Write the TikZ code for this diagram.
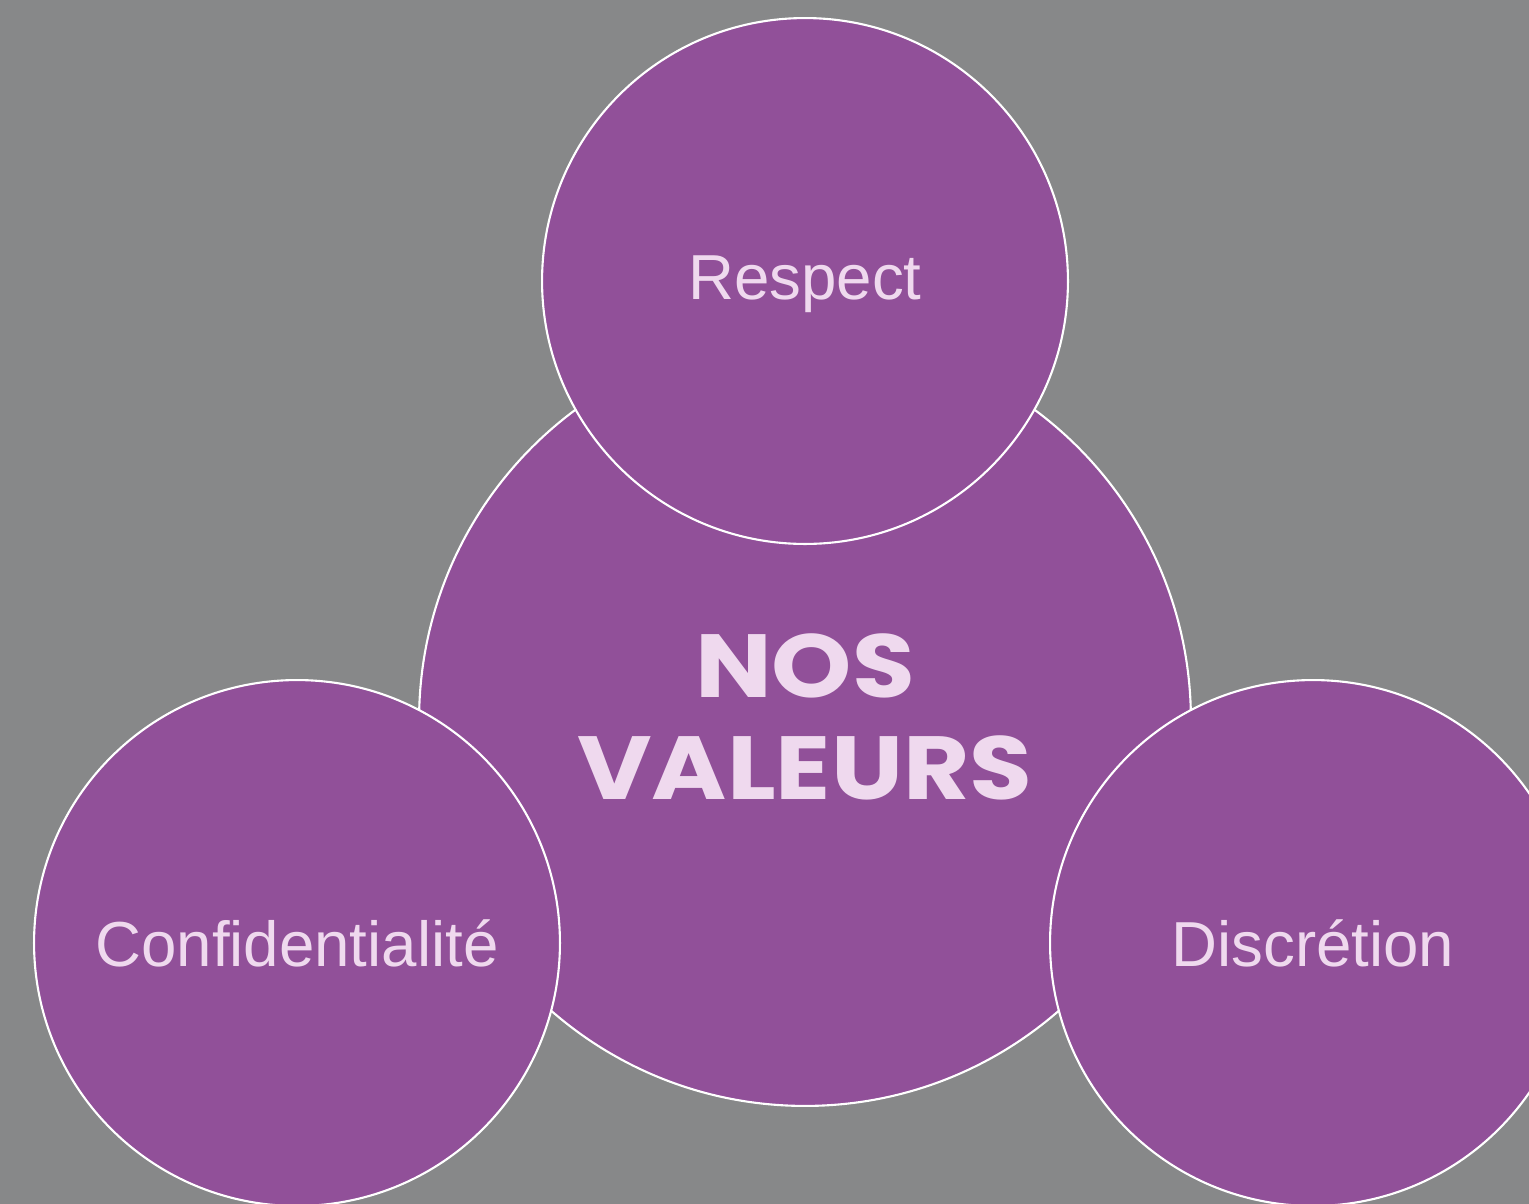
\documentclass[tikz,border=0pt]{standalone}
\usepackage{fontspec}
\setmainfont{Liberation Sans}
\newfontfamily\titlefont[FakeStretch=1.14]{Poppins}
\definecolor{bggray}{HTML}{878889}
\definecolor{valpurple}{HTML}{915099}
\definecolor{valtext}{HTML}{EFD9EE}
\tikzset{
  valcircle/.style={circle, fill=valpurple, draw=white, line width=1.2pt,
    inner sep=0pt, text=valtext},
  smallval/.style={valcircle, minimum size=10.52cm,
    font=\fontsize{36.2}{40}\selectfont},
}

\begin{document}
\begin{tikzpicture}[x=0.02cm, y=-0.02cm]
			%%%%% background %%%%%
			\clip (0, 0) rectangle (1529, 1204);
			\fill[bggray] (0, 0) rectangle (1529, 1204);
			
			%%%%% circles %%%%%
			\node[valcircle, minimum size=15.44cm, align=center,
			  font=\titlefont\bfseries\fontsize{51}{58}\selectfont] (center) at (805, 720) {\raisebox{0.06cm}[\height][\depth]{NOS}\\\raisebox{0.06cm}[\height][\depth]{VALEURS}};
			
			\node[smallval] (respect) at (805, 281) {\raisebox{-0.07cm}[\height][\depth]{Respect}};
			\node[smallval] (confid) at (297, 943) {Confidentialité};
			\node[smallval] (discret) at (1313, 943) {Discrétion};
			
		\end{tikzpicture}
\end{document}
